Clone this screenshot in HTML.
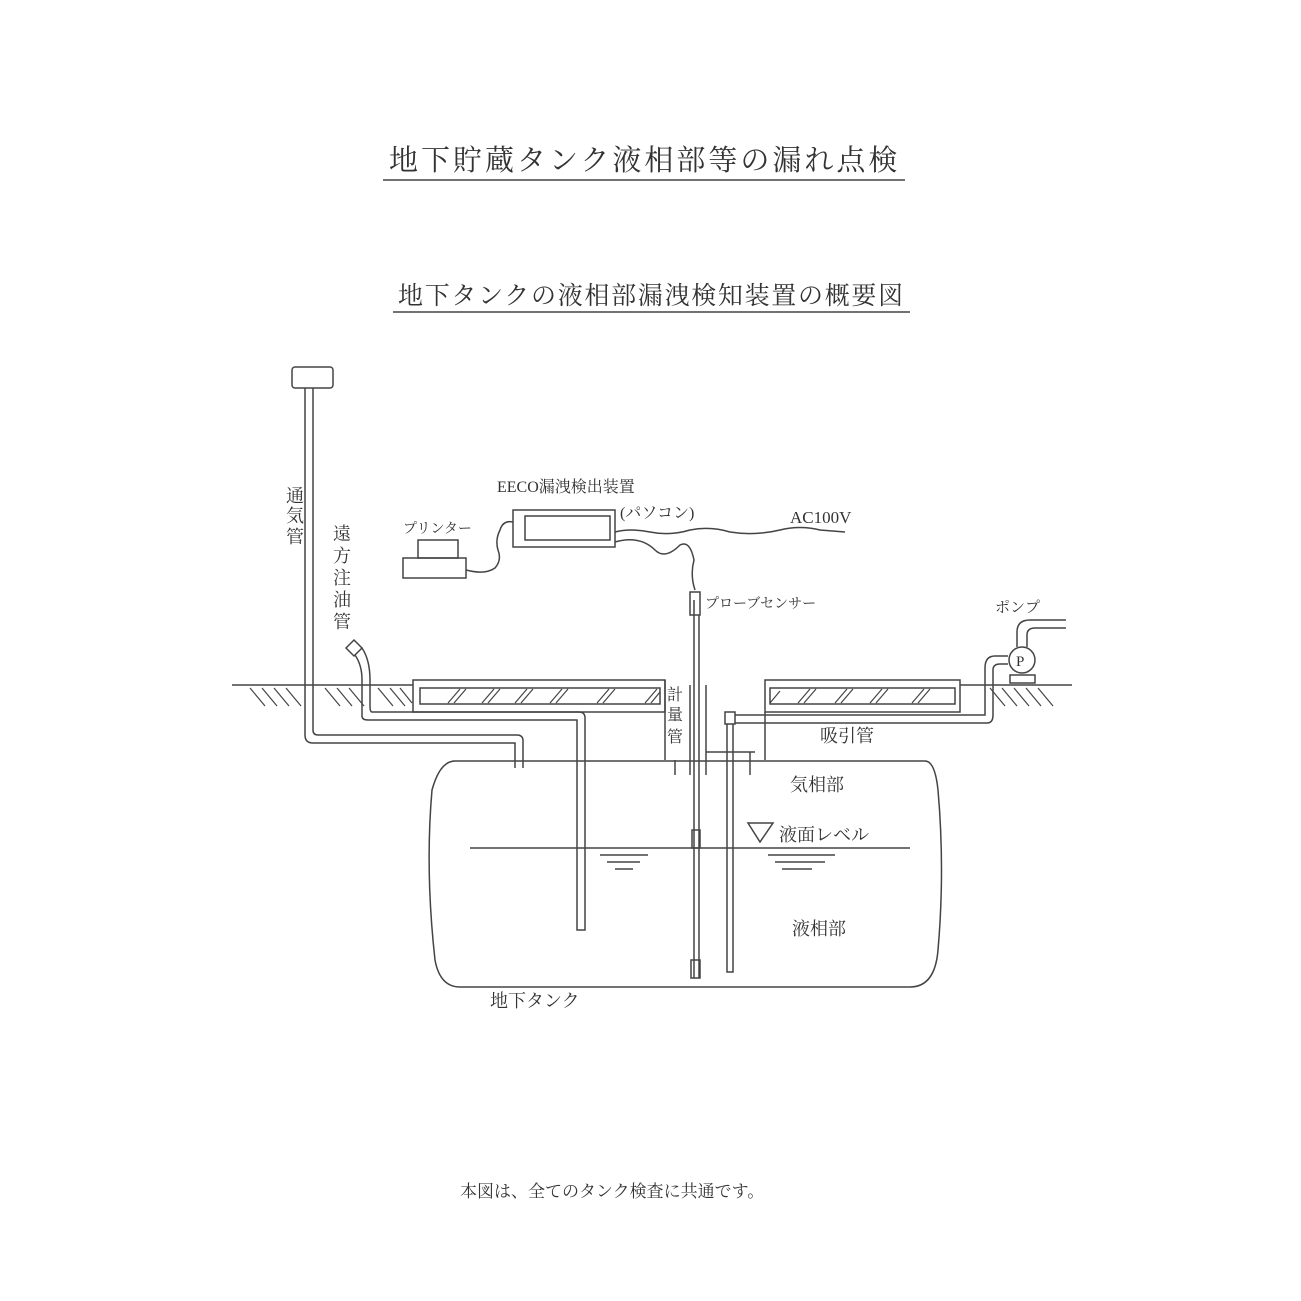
<!DOCTYPE html><html><head><meta charset="utf-8"><style>
html,body{margin:0;padding:0;background:#fff;}
svg{display:block}
text{font-family:"Liberation Serif","Noto Serif CJK SC","Noto Sans CJK JP",serif;fill:#333}
</style></head><body>
<svg width="1301" height="1301" viewBox="0 0 1301 1301" xmlns="http://www.w3.org/2000/svg">
<rect width="1301" height="1301" fill="#fff"/>
<g stroke="#444" stroke-width="1.5" fill="none">
<line x1="383" y1="180" x2="905" y2="180"/>
<line x1="393" y1="312" x2="910" y2="312"/>
<rect x="292" y="367" width="41" height="21" rx="3"/>
<path d="M305 388 V735 Q305 743 313 743 H515 V768"/>
<path d="M313 388 V730 Q313 735 318 735 H517 Q523 735 523 741 V768"/>
<path d="M346 648 L354 640 L362 648 L354 656 Z"/>
<path d="M355 655 Q362 665 362 680 V716 Q362 720 368 720 H577 V930 H585 V718 Q585 712 579 712 H372 Q370 712 370 706 V680 Q370 660 362 648"/>
<line x1="232" y1="685" x2="413" y2="685"/>
<line x1="960" y1="685" x2="1072" y2="685"/>
<g stroke-width="1.2">
<path d="M250 688 l15 18 M262 688 l15 18 M274 688 l15 18 M286 688 l15 18 M325 688 l15 18 M337 688 l15 18 M349 688 l15 18 M378 688 l15 18 M390 688 l15 18 M400 688 l12 15 M990 688 l15 18 M1002 688 l15 18 M1014 688 l15 18 M1026 688 l15 18 M1038 688 l15 18"/>
</g>
<rect x="413" y="680" width="252" height="32"/>
<rect x="420" y="688" width="240" height="16"/>
<rect x="765" y="680" width="195" height="32"/>
<rect x="770" y="688" width="185" height="16"/>
<g stroke-width="1.2">
<path d="M448 703 l12 -14 M454 703 l12 -14 M482 703 l12 -14 M488 703 l12 -14 M515 703 l12 -14 M521 703 l12 -14 M550 703 l12 -14 M556 703 l12 -14 M597 703 l12 -14 M603 703 l12 -14 M645 703 l12 -14 M651 703 l9 -11"/>
<path d="M770 703 l10 -12 M798 703 l12 -14 M804 703 l12 -14 M835 703 l12 -14 M841 703 l12 -14 M870 703 l12 -14 M876 703 l12 -14 M912 703 l12 -14 M918 703 l12 -14"/>
</g>
<line x1="665" y1="680" x2="665" y2="760"/>
<line x1="765" y1="712" x2="765" y2="760"/>
<line x1="690" y1="685" x2="690" y2="775"/>
<line x1="706" y1="685" x2="706" y2="775"/>
<line x1="706" y1="752" x2="755" y2="752"/>
<line x1="750" y1="752" x2="750" y2="775"/>
<line x1="675" y1="760" x2="675" y2="775"/>
<path d="M455 761 H925 Q935 761 938 790 Q945 870 938 950 Q935 987 910 987 H460 Q440 987 435 960 Q425 870 432 790 Q440 761 455 761 Z"/>
<line x1="694" y1="600" x2="694" y2="978"/>
<line x1="699" y1="615" x2="699" y2="978"/>
<rect x="690" y="592" width="10" height="23"/>
<rect x="692" y="830" width="8" height="18"/>
<rect x="691" y="960" width="9" height="18"/>
<rect x="725" y="712" width="10" height="12"/>
<path d="M727 724 V972 H733 V724"/>
<path d="M735 715 H985 V668 Q985 656 995 656 H1008"/>
<path d="M735 723 H987 Q993 723 993 715 V670 Q993 664 1000 664 H1008"/>
<circle cx="1022" cy="660" r="13"/>
<rect x="1010" y="675" width="25" height="8"/>
<path d="M1017 647 V632 Q1017 620 1030 620 H1066"/>
<path d="M1027 647 V635 Q1027 628 1035 628 H1066"/>
<line x1="470" y1="848" x2="910" y2="848"/>
<path d="M748 823 H773 L760 842 Z"/>
<line x1="600" y1="855" x2="648" y2="855"/><line x1="607" y1="862" x2="640" y2="862"/><line x1="615" y1="869" x2="633" y2="869"/>
<line x1="768" y1="855" x2="835" y2="855"/><line x1="775" y1="862" x2="825" y2="862"/><line x1="782" y1="869" x2="812" y2="869"/>
<rect x="513" y="510" width="102" height="37"/>
<rect x="525" y="516" width="85" height="24"/>
<rect x="418" y="540" width="40" height="18"/>
<rect x="403" y="558" width="63" height="20"/>
<path d="M466 570 Q485 575 495 568 Q502 560 498 550 Q495 540 500 530 Q503 520 513 522"/>
<path d="M615 532 Q630 528 650 532 Q670 536 690 530 Q710 526 730 532 Q755 536 780 530 Q800 525 820 530 L845 532"/>
<path d="M615 542 Q640 535 655 550 Q665 560 680 545 Q690 540 694 560 Q690 575 695 590"/>
</g>
<text x="389" y="170" font-size="29" letter-spacing="3">地下貯蔵タンク液相部等の漏れ点検</text>
<text x="398" y="304" font-size="25" letter-spacing="1.7">地下タンクの液相部漏洩検知装置の概要図</text>
<text font-size="18" x="286" y="502">通</text><text font-size="18" x="286" y="522">気</text><text font-size="18" x="286" y="543">管</text>
<text font-size="18" x="333" y="540">遠</text><text font-size="18" x="333" y="562">方</text><text font-size="18" x="333" y="584">注</text><text font-size="18" x="333" y="606">油</text><text font-size="18" x="333" y="628">管</text>
<text font-size="16" x="667" y="700">計</text><text font-size="16" x="667" y="720">量</text><text font-size="16" x="667" y="742">管</text>
<text font-size="16" x="497" y="492">EECO漏洩検出装置</text>
<text font-size="16" x="620" y="518">(パソコン)</text>
<text font-size="17" x="790" y="523">AC100V</text>
<text font-size="14" x="403" y="533">プリンター</text>
<text font-size="14" x="705" y="608">プローブセンサー</text>
<text font-size="15" x="995" y="612">ポンプ</text>
<text font-size="15" x="1016" y="666">P</text>
<text font-size="18" x="820" y="742">吸引管</text>
<text font-size="18" x="790" y="791">気相部</text>
<text font-size="18" x="779" y="841">液面レベル</text>
<text font-size="18" x="792" y="935">液相部</text>
<text font-size="18" x="490" y="1007">地下タンク</text>
<text font-size="17" x="460" y="1197">本図は、全てのタンク検査に共通です。</text>
</svg>
</body></html>
